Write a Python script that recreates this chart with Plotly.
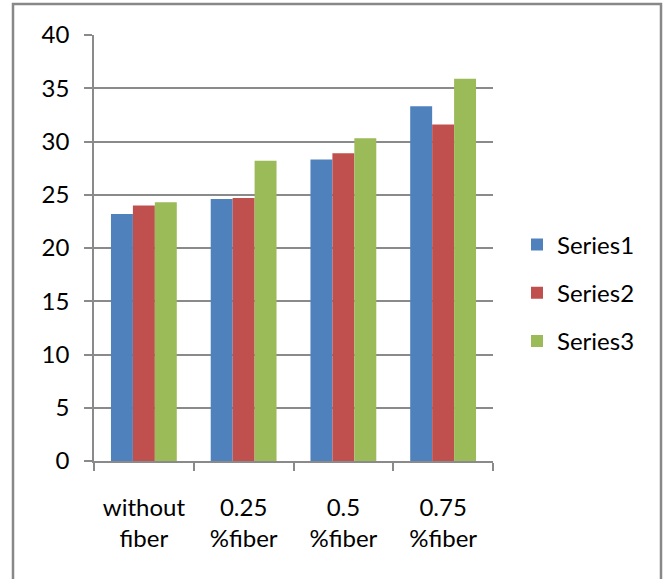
import plotly.graph_objects as go

# Categories and measured values for the three series
categories = ["without<br>fiber", "0.25<br>%fiber", "0.5<br>%fiber", "0.75<br>%fiber"]
series_names = ["Series1", "Series2", "Series3"]
series1 = [23.2, 24.6, 28.3, 33.3]
series2 = [24.0, 24.7, 28.9, 31.6]
series3 = [24.3, 28.2, 30.3, 35.9]
y_ticks = [0, 5, 10, 15, 20, 25, 30, 35, 40]

colors = ["#4F81BD", "#C0504D", "#9BBB59"]
FONT = "Lato"
FS = 24
GRID = "#8a8a8a"

# Page geometry (pixels)
W, H = 667, 579
PL, PR, PT, PB = 94, 493, 35, 461  # plot area edges

fig = go.Figure()
for i, (name, vals) in enumerate(zip(series_names, [series1, series2, series3])):
    fig.add_trace(go.Bar(
        x=categories, y=vals, name=name,
        marker=dict(color=colors[i], line=dict(width=0)),
        legendgroup=name,
    ))

# Outer chart frame, expressed in paper coordinates
pw, ph = PR - PL, PB - PT
def px_x(x):
    return (x - PL) / pw
def px_y(y):
    return (PB - y) / ph

fig.add_shape(type="rect", xref="paper", yref="paper",
              x0=px_x(13), x1=px_x(661), y0=px_y(600), y1=px_y(4),
              line=dict(color="#888888", width=2.5), fillcolor="rgba(0,0,0,0)",
              layer="below")

fig.update_layout(
    width=W, height=H,
    margin=dict(l=PL, r=W - PR, t=PT, b=H - PB, autoexpand=False),
    paper_bgcolor="white", plot_bgcolor="white",
    barmode="group", bargap=0.34, bargroupgap=0,
    font=dict(family=FONT, size=FS, color="#000000"),
    showlegend=True,
    legend=dict(
        x=px_x(517), y=px_y(293), xanchor="left", yanchor="middle",
        traceorder="grouped", tracegroupgap=14,
        font=dict(family=FONT, size=FS, color="#000000"),
        bgcolor="rgba(0,0,0,0)",
    ),
    xaxis=dict(
        type="category",
        showgrid=False, showline=True, linecolor=GRID, linewidth=1.5,
        ticks="outside", ticklen=8, tickcolor=GRID, tickwidth=1.5,
        tickson="boundaries",
        tickfont=dict(family=FONT, size=FS, color="#000000"),
        ticklabelstandoff=24,
    ),
    yaxis=dict(
        range=[0, 40], tickvals=y_ticks,
        showgrid=True, gridcolor=GRID, gridwidth=1.8,
        showline=True, linecolor=GRID, linewidth=1.5,
        ticks="outside", ticklen=8, tickcolor=GRID, tickwidth=1.5,
        tickfont=dict(family=FONT, size=FS, color="#000000"),
        ticklabelstandoff=10,
        zeroline=False,
    ),
)

fig.write_html("out.html")
